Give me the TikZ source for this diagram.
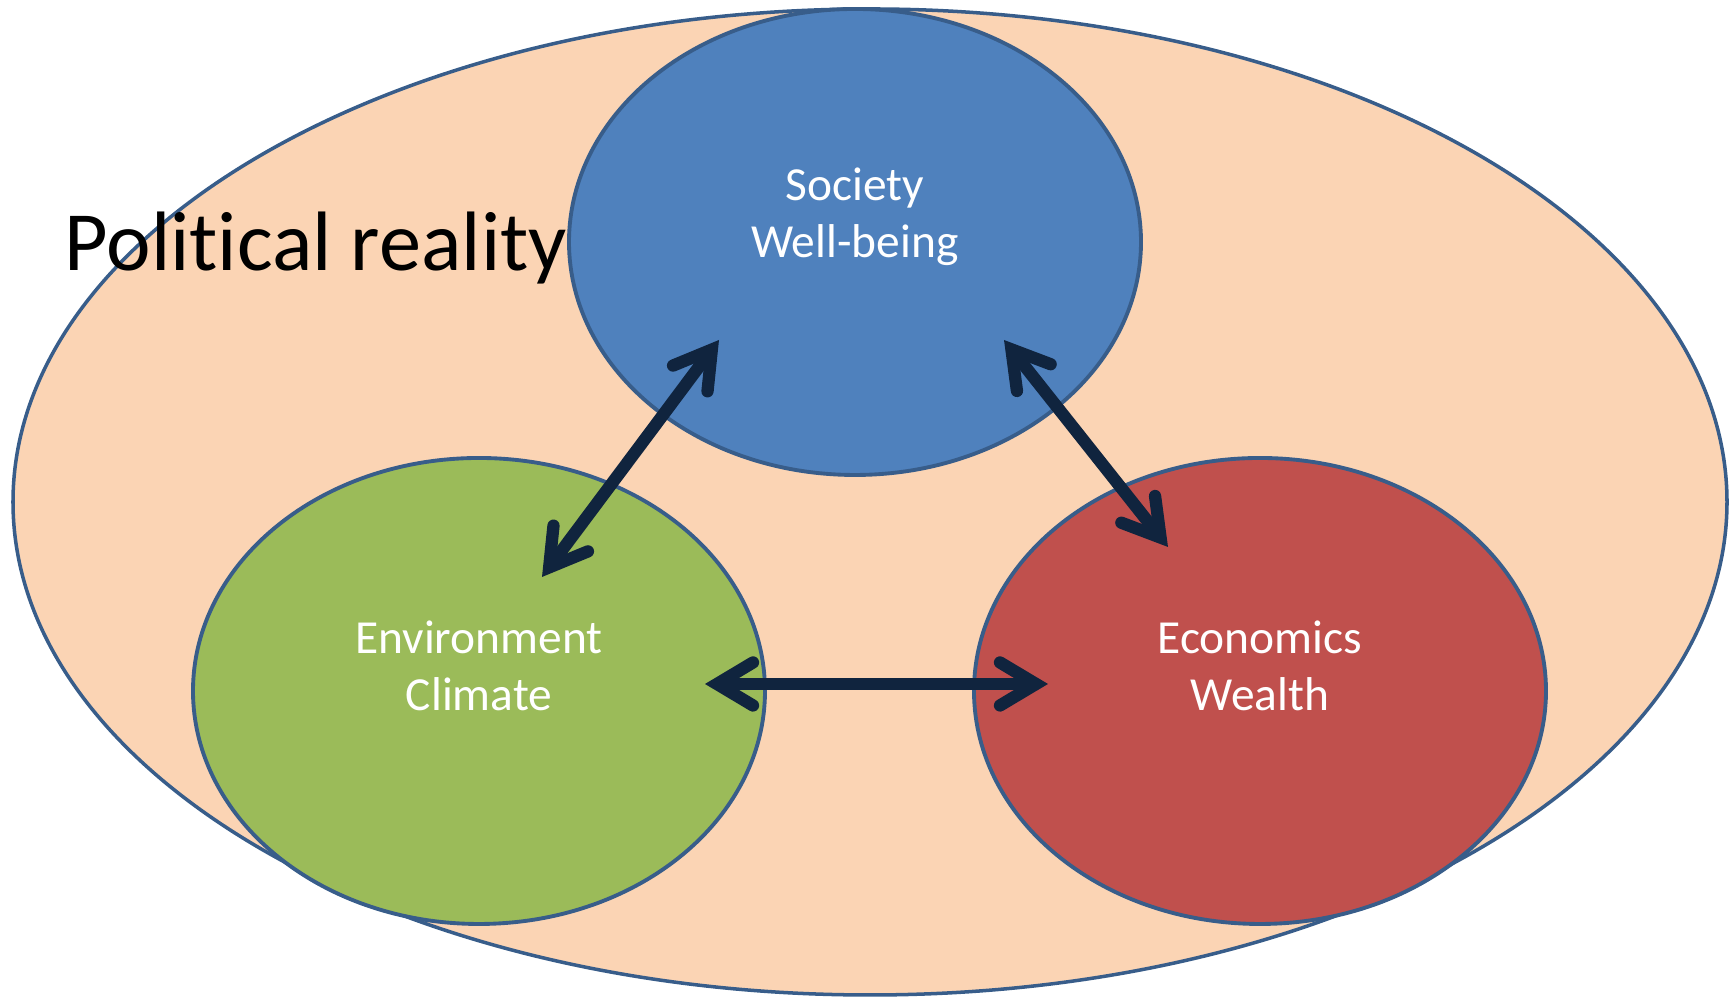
\documentclass[tikz,border=0pt]{standalone}
\usepackage{fontspec}
\setmainfont{Carlito}[Ligatures=NoCommon]
\usetikzlibrary{arrows.meta,shapes,positioning}
\definecolor{peach}{HTML}{FBD4B4}
\definecolor{socblue}{HTML}{4F81BD}
\definecolor{envgreen}{HTML}{9BBB59}
\definecolor{ecored}{HTML}{C0504D}
\definecolor{rimblue}{HTML}{385D8A}
\definecolor{arrownavy}{HTML}{10243E}

\begin{document}
\begin{tikzpicture}[area node/.style={ellipse,draw=rimblue,line width=1.1pt,minimum width=5.72cm,minimum height=4.66cm,inner sep=0pt},
  area text/.style={text=white,align=center,inner sep=0pt,font=\fontsize{13.5}{16.3}\selectfont},
  link/.style={draw=arrownavy,line width=3.5pt,{Straight Barb[length=3.6mm,width=4.3mm,line cap=round,line join=miter]}-{Straight Barb[length=3.6mm,width=4.3mm,line cap=round,line join=miter]}}]
\useasboundingbox (0,0) rectangle (17.34,10);
\node[ellipse,draw=rimblue,line width=1pt,fill=peach,minimum width=17.14cm,minimum height=9.86cm] (reality) at (8.70,4.98) {};
\node[anchor=base west,inner sep=0pt,font=\fontsize{24}{28}\selectfont] (realitytxt) at (0.64,7.29) {Political reality};
\begin{scope}[every node/.style={area node}]
\node[fill=socblue] (soc) at (8.55,7.58) {};
\node[fill=envgreen] (env) at (4.79,3.09) {};
\node[fill=ecored] (eco) at (12.60,3.09) {};
\end{scope}
\begin{scope}[every node/.style={area text}]
\node (soctxt) at ([yshift=2.5mm]soc.center) {Society\\Well-being};
\node (envtxt) at ([yshift=2.5mm]env.center) {Environment\\Climate};
\node (ecotxt) at ([yshift=2.5mm]eco.center) {Economics\\Wealth};
\end{scope}
% arrow ends
\coordinate (socl) at (7.19,6.60);
\coordinate (socr) at (10.04,6.60);
\coordinate (envt) at (5.42,4.23);
\coordinate (envr) at (7.05,3.16);
\coordinate (ecot) at (11.68,4.53);
\coordinate (ecol) at (10.48,3.16);
\draw[link] (socl) -- (envt);
\draw[link] (socr) -- (ecot);
\draw[link] (envr) -- (ecol);
\end{tikzpicture}
\end{document}
